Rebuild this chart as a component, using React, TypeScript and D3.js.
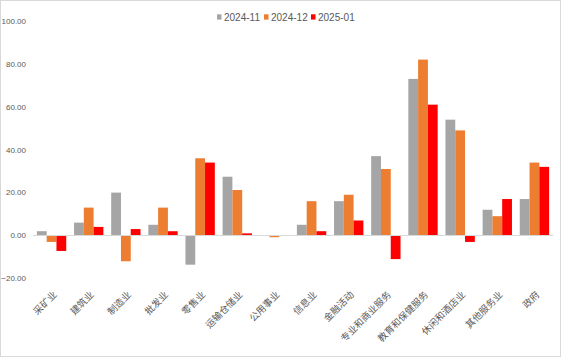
import React from "react";
import * as d3 from "d3";

const categories = [
  "采矿业", "建筑业", "制造业", "批发业", "零售业", "运输仓储业", "公用事业",
  "信息业", "金融活动", "专业和商业服务", "教育和保健服务", "休闲和酒店业", "其他服务业", "政府",
];
const seriesNames = ["2024-11", "2024-12", "2025-01"];
const s202411 = [2, 6, 20, 5, -13.6, 27.4, 0, 5, 16, 37, 73, 54, 12, 17];
const s202412 = [-3, 13, -12, 13, 36, 21.2, -0.8, 16, 19, 31, 82, 49, 9, 34];
const s202501 = [-7.2, 4, 3, 2, 34, 1, 0, 2, 7, -11, 61, -3, 17, 32];
const yTicks = [-20, 0, 20, 40, 60, 80, 100];
const colors = ["#A5A5A5", "#ED7D31", "#FF0000"];

const W = 562;
const H = 358;

export default function App() {
  const series = [s202411, s202412, s202501];
  const x0 = d3.scaleBand<string>().domain(categories).range([33, 553]).paddingInner(0.21).paddingOuter(0.105);
  const x1 = d3.scaleBand<string>().domain(seriesNames).range([0, x0.bandwidth()]);
  const y = d3.scaleLinear().domain([-20, 100]).range([278.4, 21]);
  const narrow = "'Liberation Sans Narrow', 'Liberation Sans', Arial, sans-serif";
  const cjk = "'Noto Sans CJK SC', sans-serif";

  const legendX = [217, 264, 311];

  return (
    <svg width={W} height={H} style={{ position: "absolute", left: 0, top: 0, background: "#fff" }}>
      <rect x={0.5} y={0.5} width={560} height={356} fill="#fff" stroke="#D9D9D9" strokeWidth={1} />
      {yTicks.map((t) => (
        <text key={t} x={26} y={y(t) + 2.8} textAnchor="end" fontSize={8} fill="#595959" fontFamily={narrow}>
          {d3.format(".2f")(t)}
        </text>
      ))}
      {categories.map((c, i) => (
        <g key={c}>
          {series.map((s, k) => {
            const v = s[i];
            const bx = (x0(c) as number) + (x1(seriesNames[k]) as number);
            const top = Math.min(y(v), y(0));
            const h = Math.abs(y(v) - y(0));
            return <rect key={k} x={bx} y={top} width={x1.bandwidth()} height={h} fill={colors[k]} />;
          })}
        </g>
      ))}
      <line x1={33} x2={553} y1={y(0)} y2={y(0)} stroke="#D9D9D9" strokeWidth={1} />
      {categories.map((c) => {
        const cx = (x0(c) as number) + x0.bandwidth() / 2 + 3.5;
        return (
          <text
            key={c}
            transform={`translate(${cx},${293}) rotate(-45)`}
            textAnchor="end"
            fontSize={9.5}
            fill="#595959"
            fontFamily={cjk}
            dy="0.35em"
          >
            {c}
          </text>
        );
      })}
      {seriesNames.map((n, k) => (
        <g key={n}>
          <rect x={legendX[k]} y={14.3} width={4.5} height={5.3} fill={colors[k]} />
          <text x={legendX[k] + 7} y={20.5} fontSize={10} fill="#595959" fontFamily={narrow}>
            {n}
          </text>
        </g>
      ))}
    </svg>
  );
}
